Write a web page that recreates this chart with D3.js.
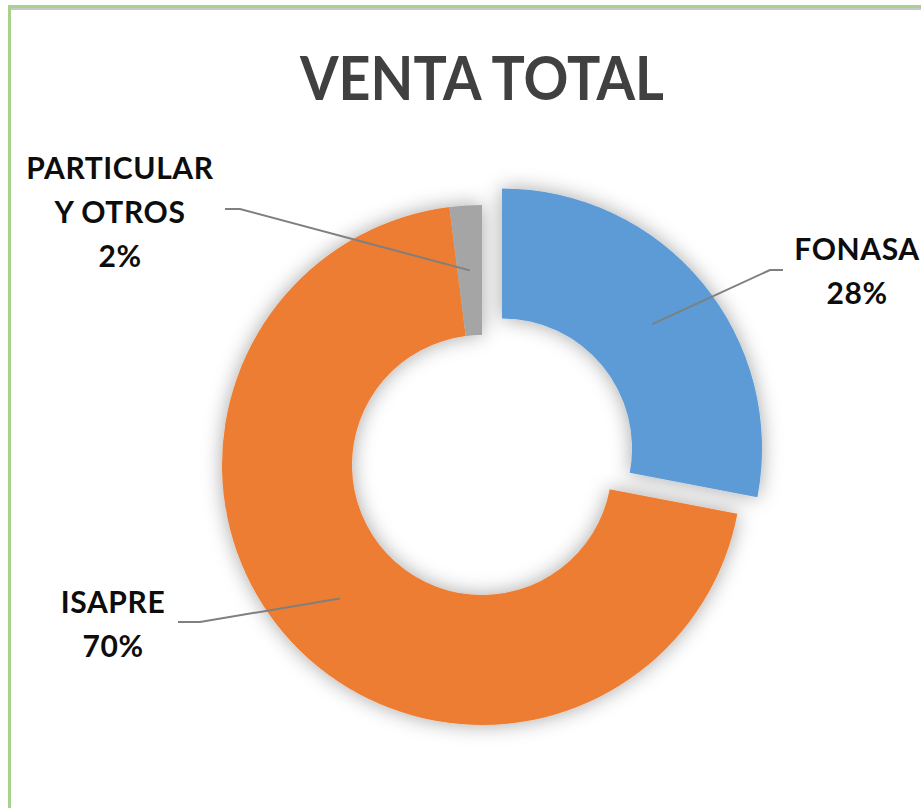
<!DOCTYPE html>
<html>
<head>
<meta charset="utf-8">
<script src="https://cdn.jsdelivr.net/npm/d3@7"></script>
<style>
	html, body { margin: 0; padding: 0; background: #fff; }
	svg { display: block; }
</style>
</head>
<body>
<div id="chart"></div>
<script>
// data
var categories = ["FONASA", "ISAPRE", "PARTICULAR Y OTROS"];
var shares = [28, 70, 2];
var labelLines = [["FONASA", "28%"], ["ISAPRE", "70%"], ["PARTICULAR", "Y OTROS", "2%"]];
var colors = ["#5b9bd5", "#ed7d31", "#a5a5a5"];

var width = 921, height = 808;
var cx = 482, cy = 465;
var outerR = 260, innerR = 130;
var explode = 26;

// label blocks: centre x, first baseline, elbow of leader line
var labelPos = [
	{x: 857, y: 260, elbow: [[783, 270], [770, 270]]},
	{x: 113, y: 613, elbow: [[178, 622], [200, 622]]},
	{x: 120, y: 179, elbow: [[225, 209], [240, 209]]}
];

var svg = d3.select("#chart").append("svg")
	.attr("width", width)
	.attr("height", height);

var defs = svg.append("defs");
var shadow = defs.append("filter")
	.attr("id", "glow")
	.attr("x", "-20%").attr("y", "-20%")
	.attr("width", "140%").attr("height", "140%");
shadow.append("feDropShadow")
	.attr("dx", 0).attr("dy", 0)
	.attr("stdDeviation", 10)
	.attr("flood-color", "#000")
	.attr("flood-opacity", 0.35);

// frame
svg.append("rect").attr("x", 9).attr("y", 8).attr("width", width).attr("height", 2).attr("fill", "#c8c8c8");
svg.append("rect").attr("x", 8).attr("y", 5).attr("width", width).attr("height", 3).attr("fill", "#a9d18e");
svg.append("rect").attr("x", 8).attr("y", 5).attr("width", 3).attr("height", height).attr("fill", "#a9d18e");

svg.append("text")
	.attr("x", cx)
	.attr("y", 100)
	.attr("text-anchor", "middle")
	.attr("font-family", "Lato, 'Open Sans', sans-serif")
	.attr("font-weight", "bold")
	.attr("font-size", 62)
	.attr("fill", "#404040")
	.attr("textLength", 364)
	.attr("lengthAdjust", "spacingAndGlyphs")
	.text("VENTA TOTAL");

var pie = d3.pie().sort(null).value(function(d) { return d; });
var arcs = pie(shares);
var arc = d3.arc().innerRadius(innerR).outerRadius(outerR);

function offset(d) {
	if (d.index !== 0) return [0, 0];
	var a = (d.startAngle + d.endAngle) / 2;
	return [Math.sin(a) * explode, -Math.cos(a) * explode];
}

var g = svg.append("g").attr("transform", "translate(" + cx + "," + cy + ")");

var slices = g.append("g").attr("filter", "url(#glow)");
slices.selectAll("path")
	.data(arcs)
	.enter().append("path")
		.attr("d", arc)
		.attr("fill", function(d, i) { return colors[i]; })
		.attr("transform", function(d) { return "translate(" + offset(d) + ")"; });

// leader lines
g.append("g").selectAll("polyline")
	.data(arcs)
	.enter().append("polyline")
		.attr("fill", "none")
		.attr("stroke", "#7f7f7f")
		.attr("stroke-width", 2)
		.attr("points", function(d, i) {
			var c = arc.centroid(d), o = offset(d);
			var pts = labelPos[i].elbow.map(function(p) { return [p[0] - cx, p[1] - cy]; });
			pts.push([c[0] + o[0], c[1] + o[1]]);
			return pts.map(function(p) { return p.join(","); }).join(" ");
		});

// labels
var labels = svg.append("g").selectAll("text")
	.data(arcs)
	.enter().append("text")
		.attr("text-anchor", "middle")
		.attr("font-family", "Lato, 'Open Sans', sans-serif")
		.attr("font-weight", "bold")
		.attr("font-size", 30)
		.attr("letter-spacing", 0.6)
		.attr("fill", "#0d0d0d")
		.attr("x", function(d, i) { return labelPos[i].x; })
		.attr("y", function(d, i) { return labelPos[i].y; });

labels.each(function(d, i) {
	var t = d3.select(this);
	labelLines[i].forEach(function(line, k) {
		t.append("tspan")
			.attr("x", labelPos[i].x)
			.attr("dy", k === 0 ? 0 : 44)
			.text(line);
	});
});
</script>
</body>
</html>
